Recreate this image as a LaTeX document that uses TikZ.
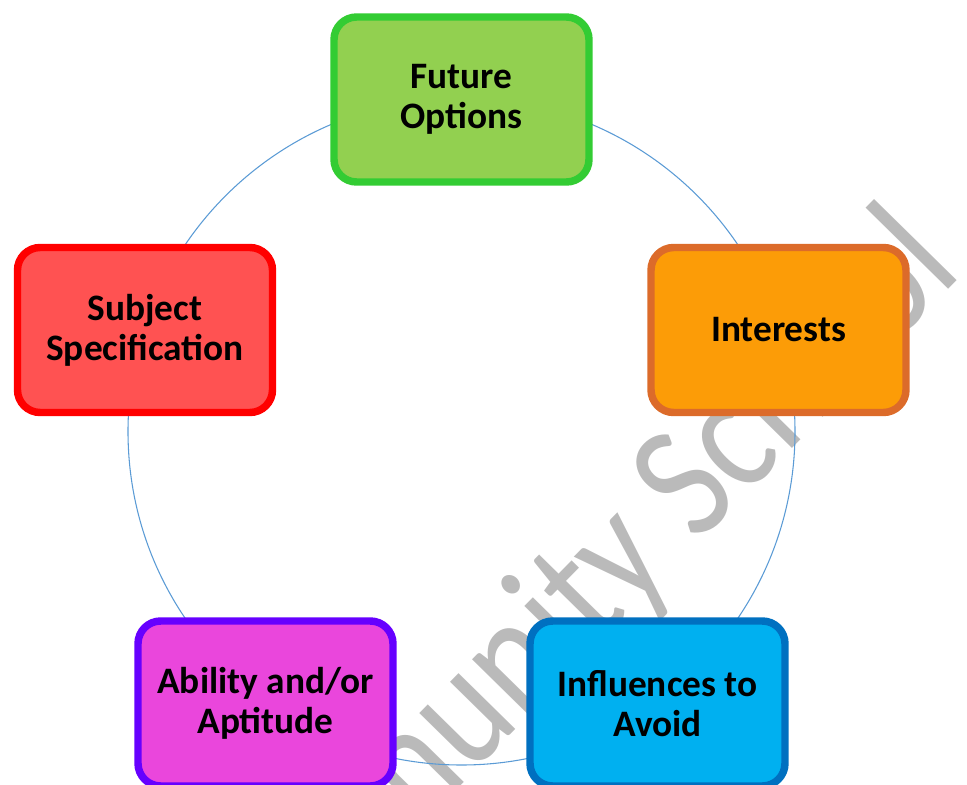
\documentclass[tikz,border=0pt]{standalone}
\usepackage{fontspec}
\setmainfont{Carlito}
\definecolor{ring}{HTML}{5B9BD5}
\definecolor{wmgray}{HTML}{BABABA}
\definecolor{fGreen}{HTML}{92D050}\definecolor{bGreen}{HTML}{33CC33}
\definecolor{fRed}{HTML}{FF5252}\definecolor{bRed}{HTML}{FF0000}
\definecolor{fOrange}{HTML}{FC9C07}\definecolor{bOrange}{HTML}{DC6B2A}
\definecolor{fBlue}{HTML}{00B0F0}\definecolor{bBlue}{HTML}{0070C0}
\definecolor{fMag}{HTML}{EA46DC}\definecolor{bMag}{HTML}{6600FF}
\tikzset{
  card/.style={draw, line width=5.6pt, rounded corners=17pt,
    minimum width=191.25pt, minimum height=123.75pt, inner sep=0pt, outer sep=0pt,
    align=center, text=black, font=\fontsize{28}{30}\selectfont\bfseries},
  ringline/.style={draw=ring, line width=0.8pt},
  watermark/.style={rotate=45.5, xscale=0.975, yscale=1.15, anchor=base west, inner sep=0pt, text=wmgray,
    font=\fontsize{108.75}{108.75}\selectfont}
}
\begin{document}
\begin{tikzpicture}[x=0.75pt, y=-0.75pt]
\useasboundingbox (0,0) rectangle (967,785);
\clip (0,0) rectangle (967,785);
\node[watermark] (wm) at (207,1044) {Community School};
\coordinate (ctr) at (461.5,431.5);
\draw[ringline] (ctr) circle[radius=333.5];
\node[card, fill=fGreen, draw=bGreen] (future) at (461.5,99.5) {Future\\Options};
\node[card, fill=fOrange, draw=bOrange] (interests) at (778.5,330) {Interests};
\node[card, fill=fBlue, draw=bBlue] (influences) at (657.5,703.5) {Influences to\\Avoid};
\node[card, fill=fMag, draw=bMag] (ability) at (265.5,703.5) {Ability and/or\\Aptitude};
\node[card, fill=fRed, draw=bRed] (subject) at (145,330) {Subject\\Specification};
\end{tikzpicture}
\end{document}
